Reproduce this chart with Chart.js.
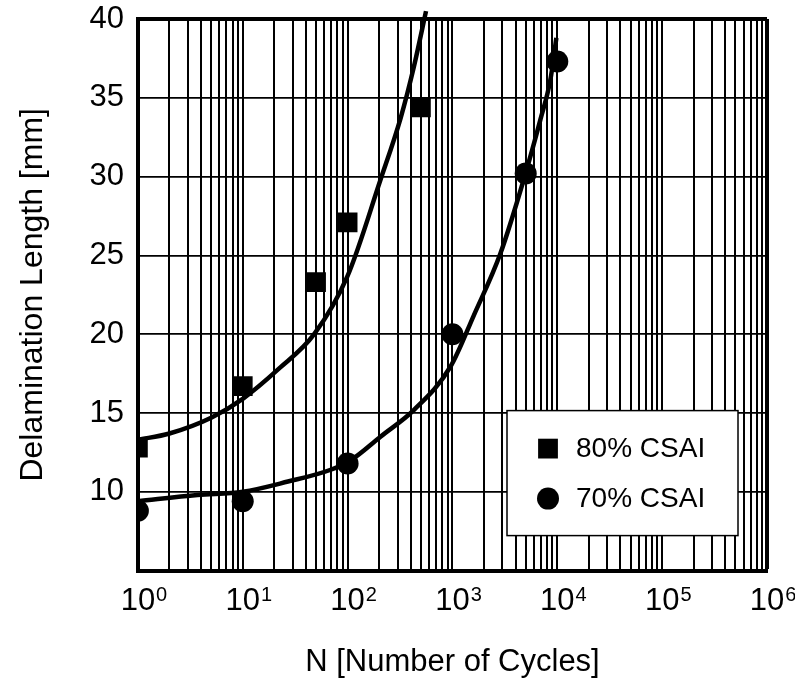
<!DOCTYPE html>
<html>
<head>
<meta charset="utf-8">
<script src="https://cdn.jsdelivr.net/npm/chart.js@4.4.1/dist/chart.umd.min.js"></script>
<style>
  html, body { margin: 0; padding: 0; background: #fff; }
  #wrap { width: 795px; height: 689px; }
</style>
</head>
<body>
<div id="wrap"><canvas id="delamChart"></canvas></div>
<script>
// measured delamination lengths
const cycles80 = [1, 10, 50, 100, 500];
const length80 = [12.8, 16.7, 23.3, 27.1, 34.4];
const cycles70 = [1, 10, 100, 1000, 5000, 10000];
const length70 = [8.8, 9.4, 11.8, 20.0, 30.2, 37.3];

// trend curves
const fitCycles80 = [1, 2, 5, 10, 22, 48, 100, 206, 320, 430, 560];
const fitLength80 = [13.3, 13.7, 14.7, 15.9, 17.8, 20.0, 23.7, 29.8, 33.7, 37.0, 40.5];
const fitCycles70 = [1, 3.7, 10, 27, 69, 107, 206, 430, 960, 1600, 2860, 4780, 6890, 8570, 9800];
const fitLength70 = [9.4, 9.8, 10.0, 10.65, 11.4, 12.0, 13.5, 15.2, 17.95, 21.2, 25.1, 29.8, 33.6, 36.1, 38.8];

const seriesLabels = ['80% CSAI', '70% CSAI'];
const decadeBase = '10';
const decadeExponents = ['0', '1', '2', '3', '4', '5', '6'];
const yTickValues = [5, 10, 15, 20, 25, 30, 35, 40];

const FONT = '"Liberation Sans", Arial, sans-serif';
const toPoints = (xs, ys) => xs.map((x, i) => ({ x: x, y: ys[i] }));
const decadeOf = (v) => {
  const k = Math.round(Math.log10(v));
  return Math.abs(Math.pow(10, k) - v) < 1e-6 ? k : -1;
};

Chart.defaults.font.family = FONT;
Chart.defaults.color = '#000';

// exponents next to the "10" tick labels
const decadeExponentsPlugin = {
  id: 'decadeExponents',
  afterDraw(chart) {
    const { ctx, chartArea } = chart;
    const xs = chart.scales.x;
    ctx.save();
    ctx.fillStyle = '#000';
    ctx.font = '31px ' + FONT;
    const baseW = ctx.measureText(decadeBase).width;
    ctx.font = '20px ' + FONT;
    ctx.textBaseline = 'alphabetic';
    xs.ticks.forEach(t => {
      const k = decadeOf(t.value);
      if (k < 0) return;
      const px = xs.getPixelForValue(t.value);
      ctx.fillText(decadeExponents[k], px + baseW / 2 + 1, chartArea.bottom + 30);
    });
    ctx.restore();
  }
};

// legend box inside the plot, lower right
const boxLegend = {
  id: 'boxLegend',
  afterDatasetsDraw(chart) {
    const { ctx, chartArea } = chart;
    const w = 231, h = 125;
    const left = chartArea.right - 29 - w;
    const top = chartArea.bottom - 35 - h;
    ctx.save();
    ctx.fillStyle = '#fff';
    ctx.strokeStyle = '#000';
    ctx.lineWidth = 1.5;
    ctx.fillRect(left, top, w, h);
    ctx.strokeRect(left, top, w, h);
    ctx.fillStyle = '#000';
    ctx.font = '28px ' + FONT;
    ctx.textBaseline = 'middle';
    [0, 1].forEach(i => {
      const ds = chart.data.datasets[i];
      const y = top + 38 + i * 50;
      Chart.helpers.drawPoint(ctx, { pointStyle: ds.pointStyle, radius: ds.pointRadius, rotation: 0, borderWidth: 0 }, left + 41, y);
      ctx.fillText(ds.label, left + 69, y + 1);
    });
    ctx.restore();
  }
};

new Chart(document.getElementById('delamChart'), {
  type: 'line',
  data: {
    datasets: [
      {
        label: seriesLabels[0],
        data: toPoints(cycles80, length80),
        showLine: false,
        pointStyle: 'rect',
        pointRadius: 14,
        pointBackgroundColor: '#000',
        pointBorderWidth: 0
      },
      {
        label: seriesLabels[1],
        data: toPoints(cycles70, length70),
        showLine: false,
        pointStyle: 'circle',
        pointRadius: 11,
        pointBackgroundColor: '#000',
        pointBorderWidth: 0
      },
      {
        label: 'fit 80',
        data: toPoints(fitCycles80, fitLength80),
        borderColor: '#000',
        borderWidth: 4.5,
        pointRadius: 0,
        cubicInterpolationMode: 'monotone',
        clip: false
      },
      {
        label: 'fit 70',
        data: toPoints(fitCycles70, fitLength70),
        borderColor: '#000',
        borderWidth: 4.5,
        pointRadius: 0,
        cubicInterpolationMode: 'monotone',
        clip: false
      }
    ]
  },
  options: {
    responsive: true,
    maintainAspectRatio: false,
    animation: false,
    layout: { padding: { left: 14, right: 28, top: 19, bottom: 8 } },
    plugins: {
      legend: { display: false },
      tooltip: { enabled: false }
    },
    scales: {
      x: {
        type: 'logarithmic',
        min: 1,
        max: 1e6,
        afterBuildTicks: (scale) => {
          const ticks = [];
          for (let d = 0; d < 6; d++) {
            for (let m = 1; m <= 9; m++) ticks.push({ value: m * Math.pow(10, d) });
          }
          ticks.push({ value: 1e6 });
          scale.ticks = ticks;
        },
        ticks: {
          autoSkip: false,
          maxRotation: 0,
          padding: 2,
          font: { size: 31 },
          callback: (value) => (decadeOf(value) >= 0 ? decadeBase : '')
        },
        grid: {
          color: '#000',
          lineWidth: (c) => (c.tick && c.tick.value === 1e6 ? 4 : 2),
          drawTicks: true,
          tickLength: 10,
          tickColor: 'rgba(0,0,0,0)'
        },
        border: { display: true, color: '#000', width: 4 },
        title: {
          display: true,
          text: 'N [Number of Cycles]',
          font: { size: 31 },
          padding: { top: 22, bottom: 0 }
        }
      },
      y: {
        type: 'linear',
        min: 5,
        max: 40,
        afterBuildTicks: (scale) => {
          scale.ticks = yTickValues.map(v => ({ value: v }));
        },
        ticks: {
          padding: 0,
          font: { size: 31 },
          callback: (value) => (value === 5 ? '' : value)
        },
        grid: {
          color: '#000',
          lineWidth: (c) => (c.tick && c.tick.value === 40 ? 4 : 1.8),
          drawTicks: true,
          tickLength: 14,
          tickColor: 'rgba(0,0,0,0)'
        },
        border: { display: true, color: '#000', width: 4 },
        title: {
          display: true,
          text: 'Delamination Length [mm]',
          font: { size: 32 },
          padding: { top: 0, bottom: 37 }
        }
      }
    }
  },
  plugins: [boxLegend, decadeExponentsPlugin]
});
</script>
</body>
</html>
